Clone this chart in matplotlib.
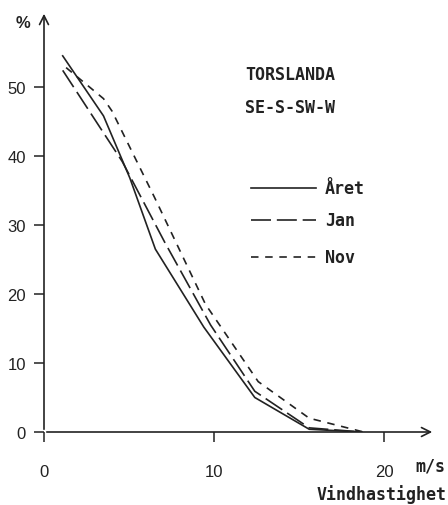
import matplotlib
matplotlib.use("Agg")
import matplotlib.pyplot as plt

# Data
aret_x = [1.1, 3.5, 5.05, 6.55, 9.4, 12.4, 15.6, 18.7]
aret_y = [54.5, 45.8, 36.8, 26.5, 15.2, 5.0, 0.4, 0.0]

jan_x = [1.1, 4.6, 7.1, 9.8, 12.4, 15.6, 18.7]
jan_y = [52.4, 39.2, 27.5, 15.5, 5.9, 0.6, 0.0]

nov_x = [1.3, 3.5, 4.0, 6.5, 9.5, 12.6, 15.6, 18.8]
nov_y = [52.8, 48.3, 46.5, 34.0, 18.5, 7.3, 2.0, 0.0]

xticks = [0, 10, 20]
yticks = [0, 10, 20, 30, 40, 50]
series_labels = ["Året", "Jan", "Nov"]
title_lines = ["TORSLANDA", "SE-S-SW-W"]

ink = "#222222"
mono = "DejaVu Sans Mono"
sans = "Liberation Sans"
mono_w = "semibold"

fig = plt.figure(figsize=(4.48, 5.06), dpi=100)
ax = fig.add_axes([44 / 448, 73 / 506, 391 / 448, 421 / 506])
ax.set_xlim(0, 23)
ax.set_ylim(0, 61)

for s in ax.spines.values():
    s.set_visible(False)

# axes with arrows
ax.annotate("", xy=(23, 0), xytext=(0, 0), xycoords="data",
            arrowprops=dict(arrowstyle="->", color=ink, lw=1.2,
                            mutation_scale=16), annotation_clip=False)
ax.annotate("", xy=(0, 61), xytext=(0, 0), xycoords="data",
            arrowprops=dict(arrowstyle="->", color=ink, lw=1.2,
                            mutation_scale=16), annotation_clip=False)

styles = ["-", (0, (12, 3.5)), (0, (4.5, 4))]
lines = []
for xs, ys, ls in zip([aret_x, jan_x, nov_x], [aret_y, jan_y, nov_y], styles):
    ln, = ax.plot(xs, ys, color=ink, lw=1.2, linestyle=ls)
    lines.append(ln)

ax.set_xticks(xticks)
ax.set_yticks(yticks)
ax.tick_params(axis="both", direction="out", length=7, width=1.1,
               color=ink, labelcolor=ink)
ax.tick_params(axis="x", pad=16)
ax.tick_params(axis="y", pad=6)
for lab in ax.get_xticklabels() + ax.get_yticklabels():
    lab.set_fontfamily(sans)
    lab.set_fontsize(12)

# y unit
fig.text(23 / 448, 1 - 23 / 506, "%", fontsize=12, family=sans,
         color=ink, ha="center", va="center", fontweight="bold")
# x unit and label
fig.text(430 / 448, 1 - 467 / 506, "m/s", fontsize=12, family=mono,
         color=ink, ha="center", va="center", fontweight=mono_w)
fig.text(447 / 448, 1 - 495 / 506, "Vindhastighet", fontsize=12,
         family=mono, color=ink, ha="right", va="center", fontweight=mono_w)

# title text
fig.text(245 / 448, 1 - 75 / 506, title_lines[0], fontsize=12, family=mono,
         color=ink, ha="left", va="center", fontweight=mono_w)
fig.text(245 / 448, 1 - 108 / 506, title_lines[1], fontsize=12, family=mono,
         color=ink, ha="left", va="center", fontweight=mono_w)

# legend (manual, as in the original)
rows = [189, 221, 258]
for yp, ls, lab in zip(rows, styles, series_labels):
    fy = 1 - yp / 506
    fig.add_artist(plt.Line2D([251 / 448, 316 / 448], [fy, fy], color=ink,
                              lw=1.2, linestyle=ls))
    fig.text(325 / 448, fy, lab, fontsize=12, family=mono, color=ink,
             ha="left", va="center", fontweight=mono_w)

fig.savefig("out.png", dpi=100, facecolor="white")
